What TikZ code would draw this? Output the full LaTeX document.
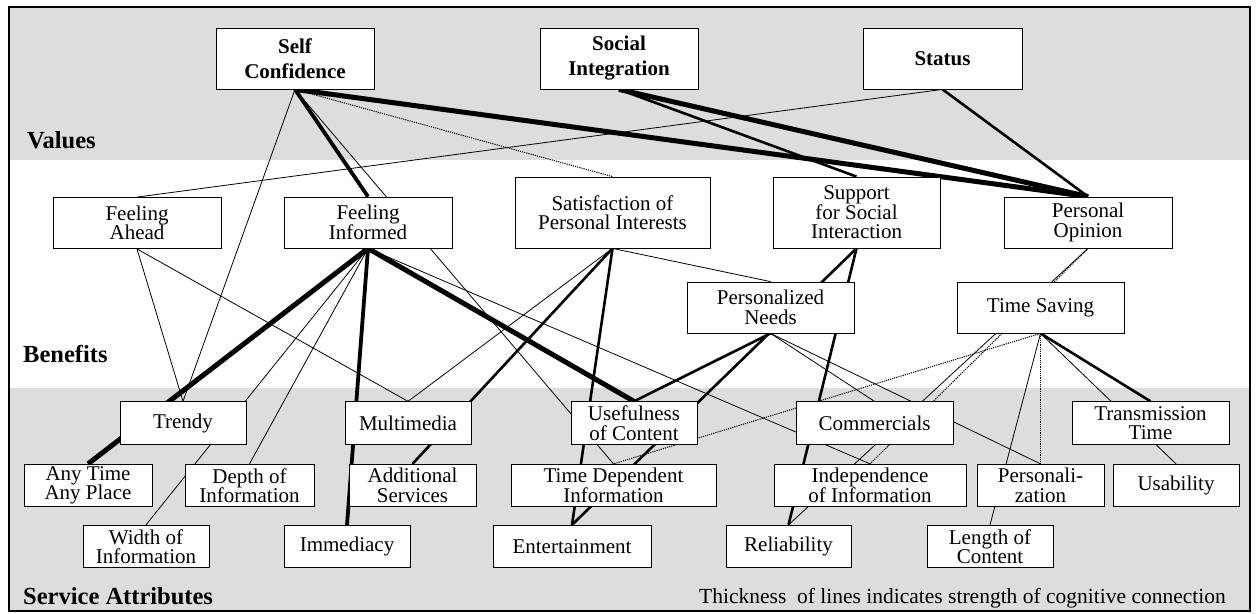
\documentclass[tikz,border=0pt]{standalone}
\usepackage{fontspec}
\setmainfont{Liberation Serif}
\pgfdeclarelayer{bands}
\pgfdeclarelayer{edges}
\pgfsetlayers{bands,edges,main}
\definecolor{bandgray}{RGB}{221,221,221}

\begin{document}
\begin{tikzpicture}[x=1pt, y=-1pt,
        main/.style = {draw, fill=white, line width=0.8pt, align=center, inner sep=1pt, font=\fontsize{21}{19.5}\selectfont},
        value/.style = {main, minimum width=158pt, minimum height=61pt, font=\fontsize{21}{25}\selectfont\bfseries},
        benefit/.style = {main, minimum height=51pt},
        attr/.style = {main, minimum height=42.5pt},
        level/.style = {anchor=base west, inner sep=0pt, font=\fontsize{24.5}{28}\selectfont\bfseries},
        weak/.style = {line width=0.8pt},
        faint/.style = {line width=1pt, dash pattern=on 1.2pt off 1pt},
        fair/.style = {line width=2.6pt},
        strong/.style = {line width=3.8pt},
        heavy/.style = {line width=5pt}]
    \useasboundingbox (0,0) rectangle (1257,613);
    \begin{pgfonlayer}{bands}
        \fill[bandgray] (9,7) rectangle (1250,160);
        \fill[bandgray] (9,388) rectangle (1250,611);
    \end{pgfonlayer}
    \draw[line width=1.5pt] (9,7) rectangle (1250,611);

    \node[level] (values) at (27,148) {Values};
    \node[level] (benefits) at (23,362) {Benefits};
    \node[level] (attributes) at (23,604) {Service Attributes};
    \node[anchor=base west, inner sep=0pt, font=\fontsize{21.5}{24}\selectfont] (legend) at (699,603) {Thickness\ \ of lines indicates strength of cognitive connection};

    \node[value] (selfconf) at (295,58.5) {Self\\Confidence};
    \node[value] (socint) at (619,58.5) {Social\\Integration};
    \node[value, minimum width=159pt] (status) at (942.5,58.5) {Status};

    \node[benefit, minimum width=168pt] (ahead) at (137,223) {Feeling\\Ahead};
    \node[benefit, minimum width=168pt] (informed) at (368,222.5) {Feeling\\Informed};
    \node[benefit, minimum width=195pt, minimum height=71pt] (satisf) at (612.5,212.5) {Satisfaction of\\Personal Interests};
    \node[benefit, minimum width=167pt, minimum height=71pt] (support) at (856.5,212.5) {Support\\for Social\\Interaction};
    \node[benefit, minimum width=168pt] (opinion) at (1088,222.5) {Personal\\Opinion};
    \node[benefit, minimum width=167pt] (needs) at (770.5,307.5) {Personalized\\Needs};
    \node[benefit, minimum width=167pt] (saving) at (1040.5,307.5) {Time Saving};

    \node[attr, minimum width=126pt] (trendy) at (183,423) {Trendy};
    \node[attr, minimum width=126pt] (multimedia) at (408,423) {Multimedia};
    \node[attr, minimum width=126pt] (useful) at (634,423) {Usefulness\\of Content};
    \node[attr, minimum width=157pt] (commercials) at (874.5,423) {Commercials};
    \node[attr, minimum width=157pt] (transmission) at (1150.5,423) {Transmission\\Time};

    \node[attr, minimum width=128pt] (anytime) at (88,485.5) {Any Time\\Any Place};
    \node[attr, minimum width=129pt] (depth) at (249.5,485.5) {Depth of\\Information};
    \node[attr, minimum width=127pt] (addserv) at (412.5,485.5) {Additional\\Services};
    \node[attr, minimum width=205pt] (timedep) at (613.5,485.5) {Time Dependent\\Information};
    \node[attr, minimum width=192pt] (independence) at (870,485.5) {Independence\\of Information};
    \node[attr, minimum width=127pt] (personal) at (1040.5,485.5) {Personali-\\zation};
    \node[attr, minimum width=126pt] (usability) at (1176,485.5) {Usability};

    \node[attr, minimum width=126pt] (widthinfo) at (146,546.5) {Width of\\Information};
    \node[attr, minimum width=126pt] (immediacy) at (347,546.5) {Immediacy};
    \node[attr, minimum width=158pt] (entertain) at (572,546.5) {Entertainment};
    \node[attr, minimum width=125pt] (reliability) at (788.5,546.5) {Reliability};
    \node[attr, minimum width=126pt] (length) at (990,546.5) {Length of\\Content};

    \begin{pgfonlayer}{edges}
        \draw[heavy] (selfconf.south) to (opinion.north);
        \draw[faint] (selfconf.south) to (satisf.north);
        \draw[strong] (selfconf.south) to (informed.north);
        \draw[weak] (selfconf.south) to (timedep.north);
        \draw[weak] (selfconf.south) to (trendy.north);
        \draw[heavy] (socint.south) to (opinion.north);
        \draw[fair] (socint.south) to (support.north);
        \draw[weak] (status.south) to (ahead.north);
        \draw[fair] (status.south) to (opinion.north);

        \draw[weak] (ahead.south) to (trendy.north);
        \draw[weak] (ahead.south) to (multimedia.north);
        \draw[heavy] (informed.south) to (anytime.north);
        \draw[strong] (informed.south) to (immediacy.north);
        \draw[heavy] (informed.south) to (useful.north);
        \draw[weak] (informed.south) to (widthinfo.north);
        \draw[weak] (informed.south) to (depth.north);
        \draw[weak] (informed.south) to (independence.north);
        \draw[weak] (satisf.south) to (multimedia.north);
        \draw[fair] (satisf.south) to (addserv.north);
        \draw[fair] (satisf.south) to (entertain.north);
        \draw[weak] (satisf.south) to (needs.north);
        \draw[fair] (support.south) to (entertain.north);
        \draw[fair] (support.south) to (reliability.north);
        \draw[faint] (opinion.south) to (independence.north);
        \draw[weak] (opinion.south) to (reliability.north);

        \draw[fair] (needs.south) to (useful.north);
        \draw[weak] (needs.south) to (commercials.north);
        \draw[weak] (needs.south) to (personal.north);
        \draw[faint] (saving.south) to (timedep.north);
        \draw[weak] (saving.south) to (length.north);
        \draw[faint] (saving.south) to (personal.north);
        \draw[fair] (saving.south) to (transmission.north);
        \draw[weak] (saving.south) to (usability.north);
    \end{pgfonlayer}
\end{tikzpicture}
\end{document}
